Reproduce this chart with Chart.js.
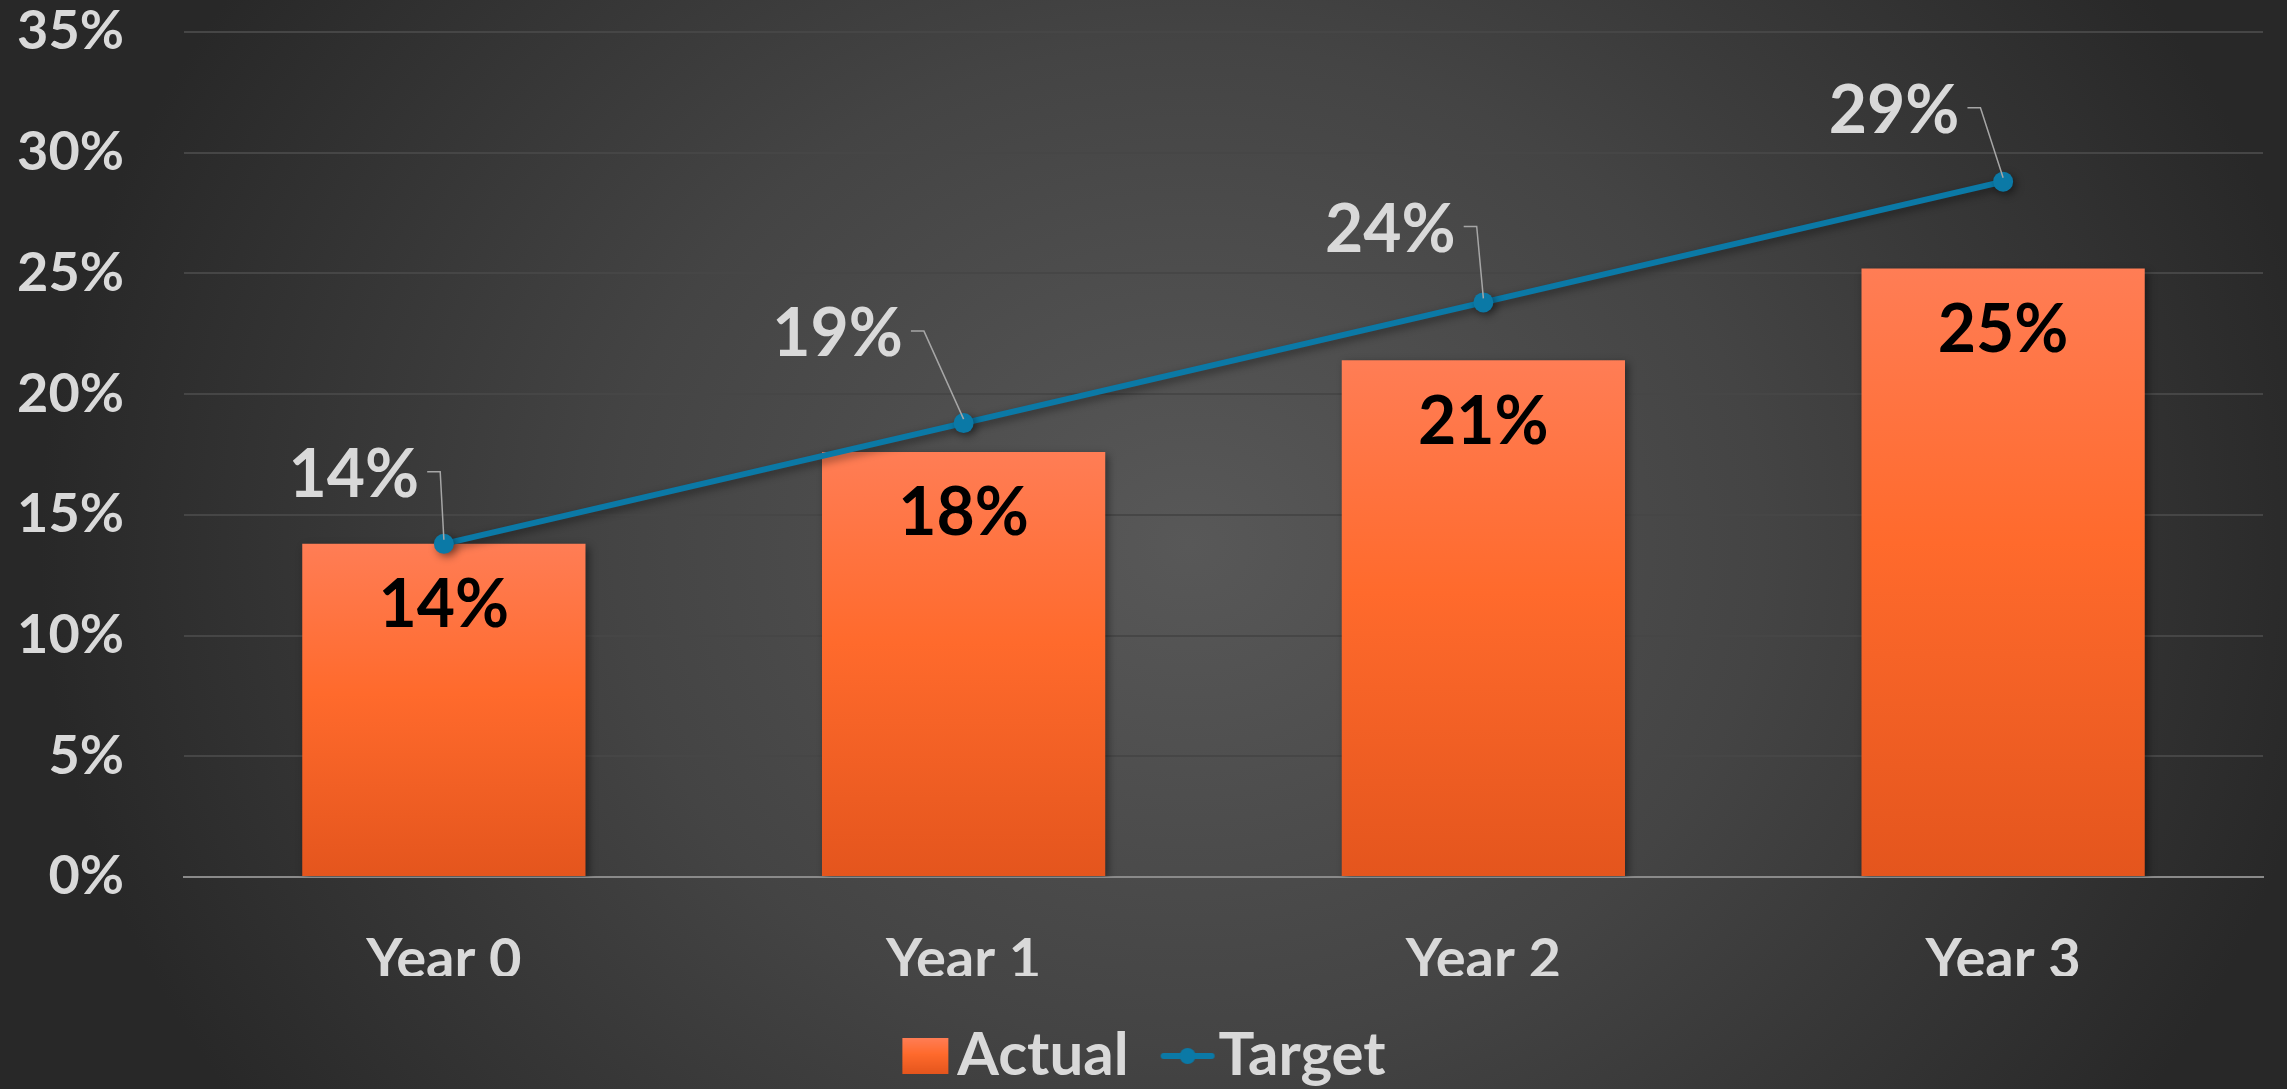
<!DOCTYPE html>
<html><head><meta charset="utf-8">
<script src="https://cdn.jsdelivr.net/npm/chart.js@4.4.1/dist/chart.umd.min.js"></script>
<style>
html,body{margin:0;padding:0;background:#282828;overflow:hidden;}
#wrap{width:2287px;height:1089px;background:radial-gradient(ellipse 1150px 1000px at 52% 50%, #585858 0%, #444444 50%, #282828 100%);}
canvas{display:block;}
</style></head><body>
<div id="wrap"><canvas id="c" width="2287" height="1089"></canvas></div>
<script>
// ---- data ----
const categories = ['Year 0', 'Year 1', 'Year 2', 'Year 3'];
const seriesNames = ['Actual', 'Target'];
const actualValues = [13.8, 17.6, 21.4, 25.2];
const targetValues = [13.8, 18.8, 23.8, 28.8];
const actualLabels = ['14%', '18%', '21%', '25%'];
const targetLabels = ['14%', '19%', '24%', '29%'];
const yMin = 0, yMax = 35, yStep = 5;

// ---- styles ----
const FONT = 'Lato, "Open Sans", sans-serif';
const LINE_COLOR = '#0b79a6';
const TEXT_COLOR = '#d9d9d9';

function barGradient(ctx, top, base) {
  const g = ctx.createLinearGradient(0, top, 0, base);
  g.addColorStop(0, '#ff7d55');
  g.addColorStop(0.45, '#ff6a2c');
  g.addColorStop(1, '#e4551d');
  return g;
}

// legend icons (canvas images)
function makeBarIcon() {
  const c = document.createElement('canvas'); c.width = 100; c.height = 36;
  const x = c.getContext('2d');
  x.fillStyle = barGradient(x, 0, 36);
  x.fillRect(30, 0, 46, 36);
  return c;
}
function makeLineIcon() {
  const c = document.createElement('canvas'); c.width = 100; c.height = 20;
  const x = c.getContext('2d');
  x.strokeStyle = LINE_COLOR; x.lineWidth = 6; x.lineCap = 'round';
  x.beginPath(); x.moveTo(30, 10); x.lineTo(78, 10); x.stroke();
  x.fillStyle = LINE_COLOR; x.beginPath(); x.arc(54, 10, 8, 0, Math.PI * 2); x.fill();
  return c;
}
const legendIcons = [makeBarIcon(), makeLineIcon()];

// label offsets for the target series callouts (relative to the point)
const calloutOffsets = [[-90, -68], [-126, -88], [-93, -72], [-109, -70]];

const labelsPlugin = {
  id: 'labelsPlugin',
  afterLayout(chart) {
    // nudge the legend block slightly right, as in the original
    if (chart.legend) chart.legend.left += 40;
  },
  beforeDatasetDraw(chart) {
    const ctx = chart.ctx;
    ctx.shadowColor = 'rgba(0,0,0,0.45)';
    ctx.shadowBlur = 8;
    ctx.shadowOffsetX = 3;
    ctx.shadowOffsetY = 3;
  },
  afterDatasetDraw(chart) {
    const ctx = chart.ctx;
    ctx.shadowColor = 'rgba(0,0,0,0)';
    ctx.shadowBlur = 0; ctx.shadowOffsetX = 0; ctx.shadowOffsetY = 0;
  },
  afterDatasetsDraw(chart) {
    const ctx = chart.ctx;
    ctx.save();
    ctx.shadowColor = 'rgba(0,0,0,0)';
    ctx.textAlign = 'center';
    ctx.textBaseline = 'middle';
    // bar labels
    const barMeta = chart.getDatasetMeta(0);
    ctx.font = 'bold 66px ' + FONT;
    ctx.fillStyle = '#000000';
    barMeta.data.forEach((el, i) => {
      ctx.fillText(actualLabels[i], el.x, el.y + 62);
    });
    // target callouts
    const lineMeta = chart.getDatasetMeta(1);
    lineMeta.data.forEach((el, i) => {
      const [dx, dy] = calloutOffsets[i];
      const lx = el.x + dx, ly = el.y + dy;
      ctx.font = 'bold 66px ' + FONT;
      const w = ctx.measureText(targetLabels[i]).width;
      ctx.strokeStyle = '#a6a6a6';
      ctx.lineWidth = 1.5;
      ctx.beginPath();
      const hx0 = lx + w / 2 + 8, hy = ly - 4;
      ctx.moveTo(hx0, hy);
      ctx.lineTo(hx0 + 13, hy);
      ctx.lineTo(el.x, el.y - 4);
      ctx.stroke();
      ctx.fillStyle = TEXT_COLOR;
      ctx.fillText(targetLabels[i], lx, ly);
    });
    ctx.restore();
  }
};

new Chart(document.getElementById('c'), {
  data: {
    labels: categories,
    datasets: [
      {
        type: 'bar',
        label: seriesNames[0],
        data: actualValues,
        order: 1,
        backgroundColor(c) {
          const ch = c.chart;
          if (!ch.chartArea || c.type !== 'data') return '#ff6a2c';
          const y = ch.scales.y;
          return barGradient(ch.ctx, y.getPixelForValue(c.raw), y.getPixelForValue(0));
        },
        borderWidth: 0,
        categoryPercentage: 1.0,
        barPercentage: 0.545
      },
      {
        type: 'line',
        label: seriesNames[1],
        data: targetValues,
        order: 0,
        borderColor: LINE_COLOR,
        backgroundColor: LINE_COLOR,
        borderWidth: 6,
        pointRadius: 10,
        pointHoverRadius: 10,
        pointBackgroundColor: LINE_COLOR,
        pointBorderWidth: 0,
        tension: 0,
        fill: false
      }
    ]
  },
  options: {
    responsive: false,
    animation: false,
    devicePixelRatio: 1,
    layout: { padding: { top: 32, right: 24, bottom: -7, left: 0 } },
    scales: {
      x: {
        grid: { display: false, drawTicks: false },
        border: { display: true, color: '#8a8a8a', width: 2 },
        ticks: { color: TEXT_COLOR, font: { family: FONT, size: 56, weight: 'bold' }, padding: 49 },
        afterFit(s) { s.height = 99; s.paddingLeft = 0; s.paddingRight = 0; }
      },
      y: {
        min: yMin, max: yMax,
        grid: {
          color: (c) => (c.tick && c.tick.value === 0 ? '#8a8a8a' : '#464646'),
          lineWidth: 2,
          drawTicks: false
        },
        border: { display: false },
        ticks: {
          stepSize: yStep,
          color: TEXT_COLOR,
          font: { family: FONT, size: 54, weight: 'bold' },
          padding: 60,
          callback: (v) => v + '%'
        },
        afterFit(s) { s.width = 184; s.paddingTop = 0; s.paddingBottom = 0; }
      }
    },
    plugins: {
      tooltip: { enabled: false },
      legend: {
        position: 'bottom',
        labels: {
          usePointStyle: true,
          pointStyleWidth: 10,
          padding: 50,
          color: TEXT_COLOR,
          font: { family: FONT, size: 60, weight: 'bold' },
          generateLabels(chart) {
            return chart.data.datasets.map((ds, i) => ({
              text: ds.label,
              pointStyle: legendIcons[i],
              fillStyle: 'rgba(0,0,0,0)',
              strokeStyle: 'rgba(0,0,0,0)',
              lineWidth: 0,
              hidden: false,
              datasetIndex: i,
              fontColor: TEXT_COLOR
            }));
          }
        }
      }
    }
  },
  plugins: [labelsPlugin]
});
</script>
</body></html>
